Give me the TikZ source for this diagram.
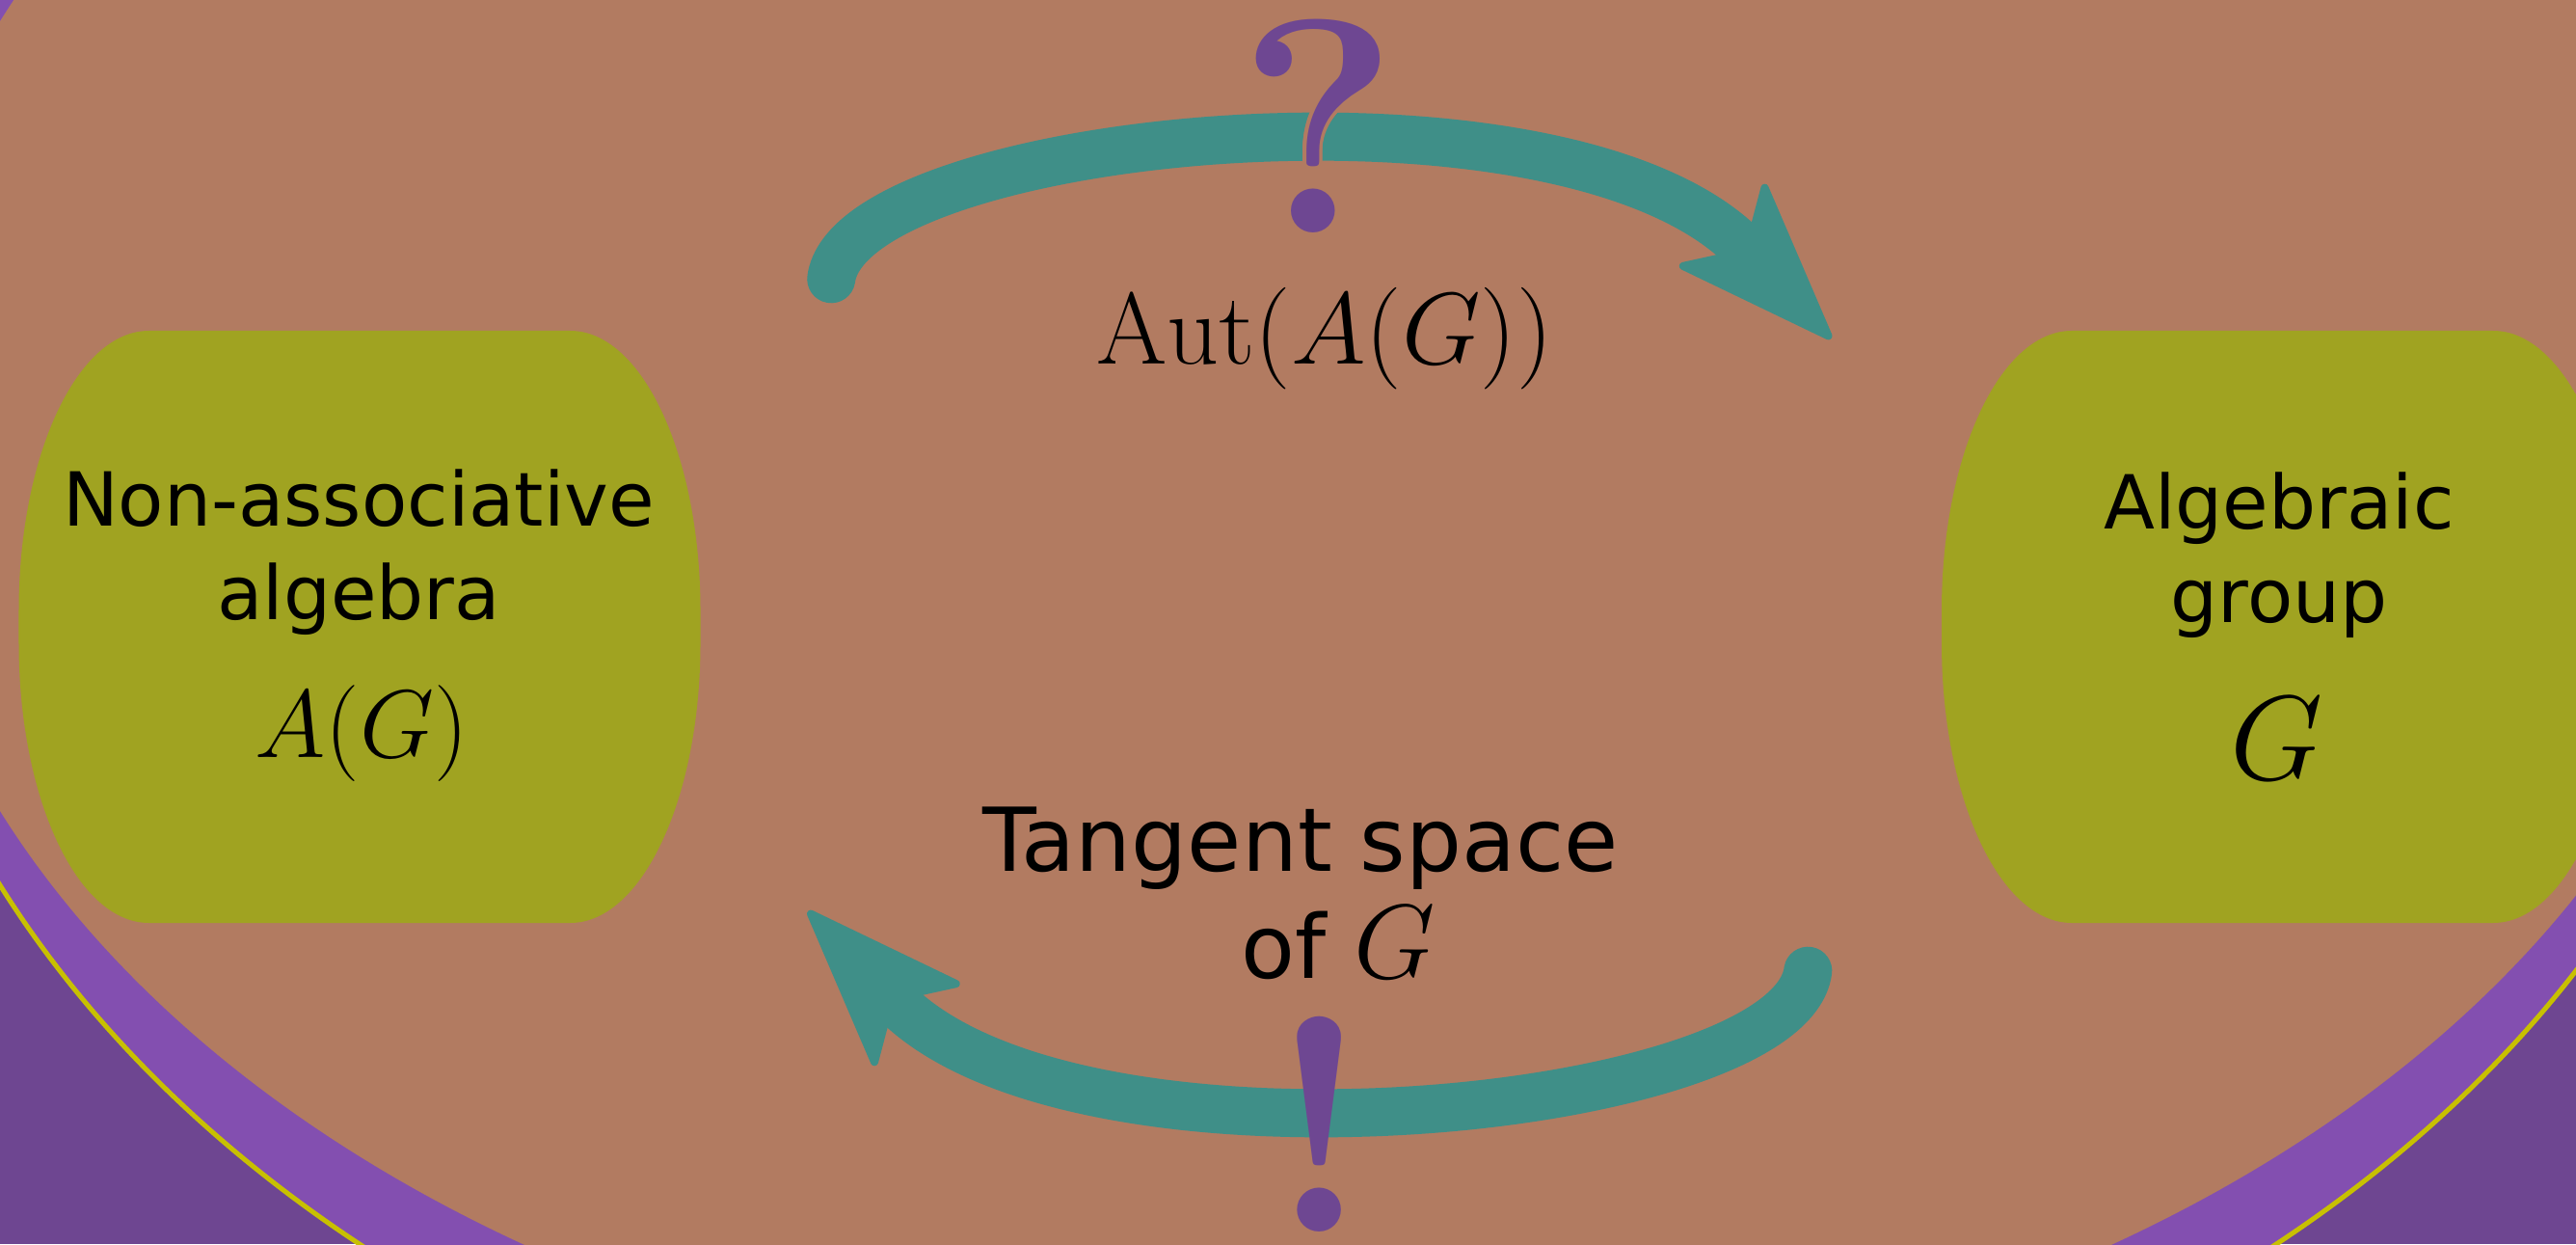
\documentclass[tikz,border=0pt]{standalone}
\usepackage{graphicx}
\usepackage{fontspec}
\setsansfont{DejaVu Sans}
\usetikzlibrary{arrows.meta}
\definecolor{bgbrown}{HTML}{B27B61}
\definecolor{lightpurple}{HTML}{834FB0}
\definecolor{darkpurple}{HTML}{6E4691}
\definecolor{ringyellow}{HTML}{C8C000}
\definecolor{boxgreen}{HTML}{A0A321}
\definecolor{arrowteal}{HTML}{3F8F88}
\definecolor{markpurple}{HTML}{6E4792}
\newcommand{\bigmath}[2]{\scalebox{#1}{\huge$#2$}}

\begin{document}
\begin{tikzpicture}[
 x=1mm,y=1mm,
 head/.style={font=\sffamily\fontsize{22}{26}\selectfont,text=black,anchor=base,inner sep=0pt},
 note/.style={font=\sffamily\fontsize{26}{31}\selectfont,text=black,anchor=base,inner sep=0pt},
 maths/.style={text=black,anchor=base,inner sep=0pt},
 punct/.style={font=\rmfamily\bfseries\fontsize{90}{100}\selectfont,text=markpurple,anchor=base,inner sep=0pt},
 card/.style={minimum width=70.7mm,minimum height=61.4mm,inner sep=0pt,
  path picture={
   \fill[boxgreen] ([xshift=13.5mm]path picture bounding box.north west)
    -- ([xshift=-13.5mm]path picture bounding box.north east)
    arc[start angle=90,end angle=0,x radius=13.5mm,y radius=29mm]
    -- ([yshift=29mm]path picture bounding box.south east)
    arc[start angle=0,end angle=-90,x radius=13.5mm,y radius=29mm]
    -- ([xshift=13.5mm]path picture bounding box.south west)
    arc[start angle=270,end angle=180,x radius=13.5mm,y radius=29mm]
    -- ([yshift=-29mm]path picture bounding box.north west)
    arc[start angle=180,end angle=90,x radius=13.5mm,y radius=29mm] -- cycle;}},
 flow/.style={draw=arrowteal,line width=5mm,line cap=round,
  -{Stealth[length=17.7mm,width=13.2mm,inset=4mm,round,line width=0.8mm]}}
]
\useasboundingbox (0,0) rectangle (267.2,129);
\clip (0,0) rectangle (267.2,129);

% Background rings.
\fill[darkpurple] (0,0) rectangle (267.2,129);
\filldraw[fill=lightpurple,draw=ringyellow,line width=.5mm] (136.7,85.85) ellipse [x radius=151.1,y radius=114];
\fill[bgbrown] (136.7,85.85) ellipse [x radius=148.9,y radius=103.1];

% The two objects.
\node[card] (alg) at (37.3,64) {};
\node[head] (alg1) at (37.2,74.5) {Non-associative};
\node[head] (alg2) at (37.2,64.8) {algebra};
\node[maths] (algm) at (37.5,50.5) {\bigmath{1.37}{A(G)}};

\node[card] (grp) at (236.75,64) {};
\node[head] (grp1) at (236.4,74.2) {Algebraic};
\node[head] (grp2) at (236.4,64.5) {group};
\node[maths] (grpm) at (236.2,48.2) {\bigmath{1.71}{G}};

% Round trip.
\draw[flow] ([xshift=13.5mm,yshift=5.3mm]alg.north east)
 .. controls +(2,15) and +(-27.6,28.8) .. ([xshift=-11.4mm,yshift=-.9mm]grp.north west);
\draw[flow] ([xshift=-13.8mm,yshift=-4.9mm]grp.south west)
 .. controls +(-2,-15) and +(27.6,-28.8) .. ([xshift=11.1mm,yshift=1.3mm]alg.south east);

\node[maths] (aut) at (137.4,91.2) {\bigmath{1.45}{\mathrm{Aut}(A(G))}};
\node[note] (tan1) at (134.9,38.7) {Tangent space};
\node[note] (tan2) at (138.8,27.6) {of \bigmath{1.5}{G}};

% Question mark cut out of the arrow, exclamation mark laid over it.
\foreach \a in {0,20,...,340}
  \node[punct,text=bgbrown] (qhalo\a) at ([shift={(\a:.35)}]136.7,104.8) {?};
\node[punct] (qmark) at (136.7,104.8) {?};
\node[punct] (emark) at (136.9,1.3) {!};
\end{tikzpicture}
\end{document}
